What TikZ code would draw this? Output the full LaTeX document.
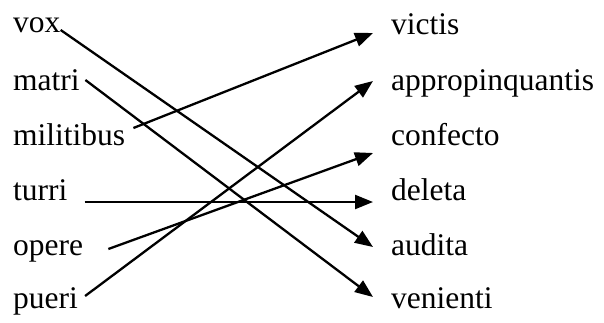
\documentclass[tikz,border=0pt]{standalone}
\usepackage{fontspec}
\setmainfont{Liberation Serif}
\usetikzlibrary{arrows.meta}

\begin{document}
\begin{tikzpicture}[
    x=1pt, y=1pt,
    word/.style={inner sep=0pt, anchor=base west, font=\fontsize{31.5}{36}\selectfont},
    arrow/.style={-{Triangle[length=18pt, width=14pt]}, line width=2.3pt}
]
\useasboundingbox (0,0) rectangle (604,322);

% left column
\node[word] (vox) at (13,289) {vox};
\node[word] (matri) at (13,232) {matri};
\node[word] (militibus) at (13,177) {militibus};
\node[word] (turri) at (13,122) {turri};
\node[word] (opere) at (13,67) {opere};
\node[word] (pueri) at (13,14) {pueri};

% right column
\node[word] (victis) at (391,287) {victis};
\node[word] (approp) at (391,232) {appropinquantis};
\node[word] (confecto) at (391,177) {confecto};
\node[word] (deleta) at (391,122) {deleta};
\node[word] (audita) at (391,67) {audita};
\node[word] (venienti) at (391,14) {venienti};

% matching arrows
\draw[arrow] ([shift={(0,3)}]vox.base east) -- ([shift={(-18,8)}]audita.base west);
\draw[arrow] ([shift={(5.5,10)}]matri.base east) -- ([shift={(-18,11)}]venienti.base west);
\draw[arrow] ([shift={(8,17)}]militibus.base east) -- ([shift={(-18,2)}]victis.base west);
\draw[arrow] ([shift={(17,-2)}]turri.base east) -- ([shift={(-18,-2)}]deleta.base west);
\draw[arrow] ([shift={(25,6)}]opere.base east) -- ([shift={(-18,-8)}]confecto.base west);
\draw[arrow] ([shift={(7,12)}]pueri.base east) -- ([shift={(-18,9)}]approp.base west);

\end{tikzpicture}
\end{document}
